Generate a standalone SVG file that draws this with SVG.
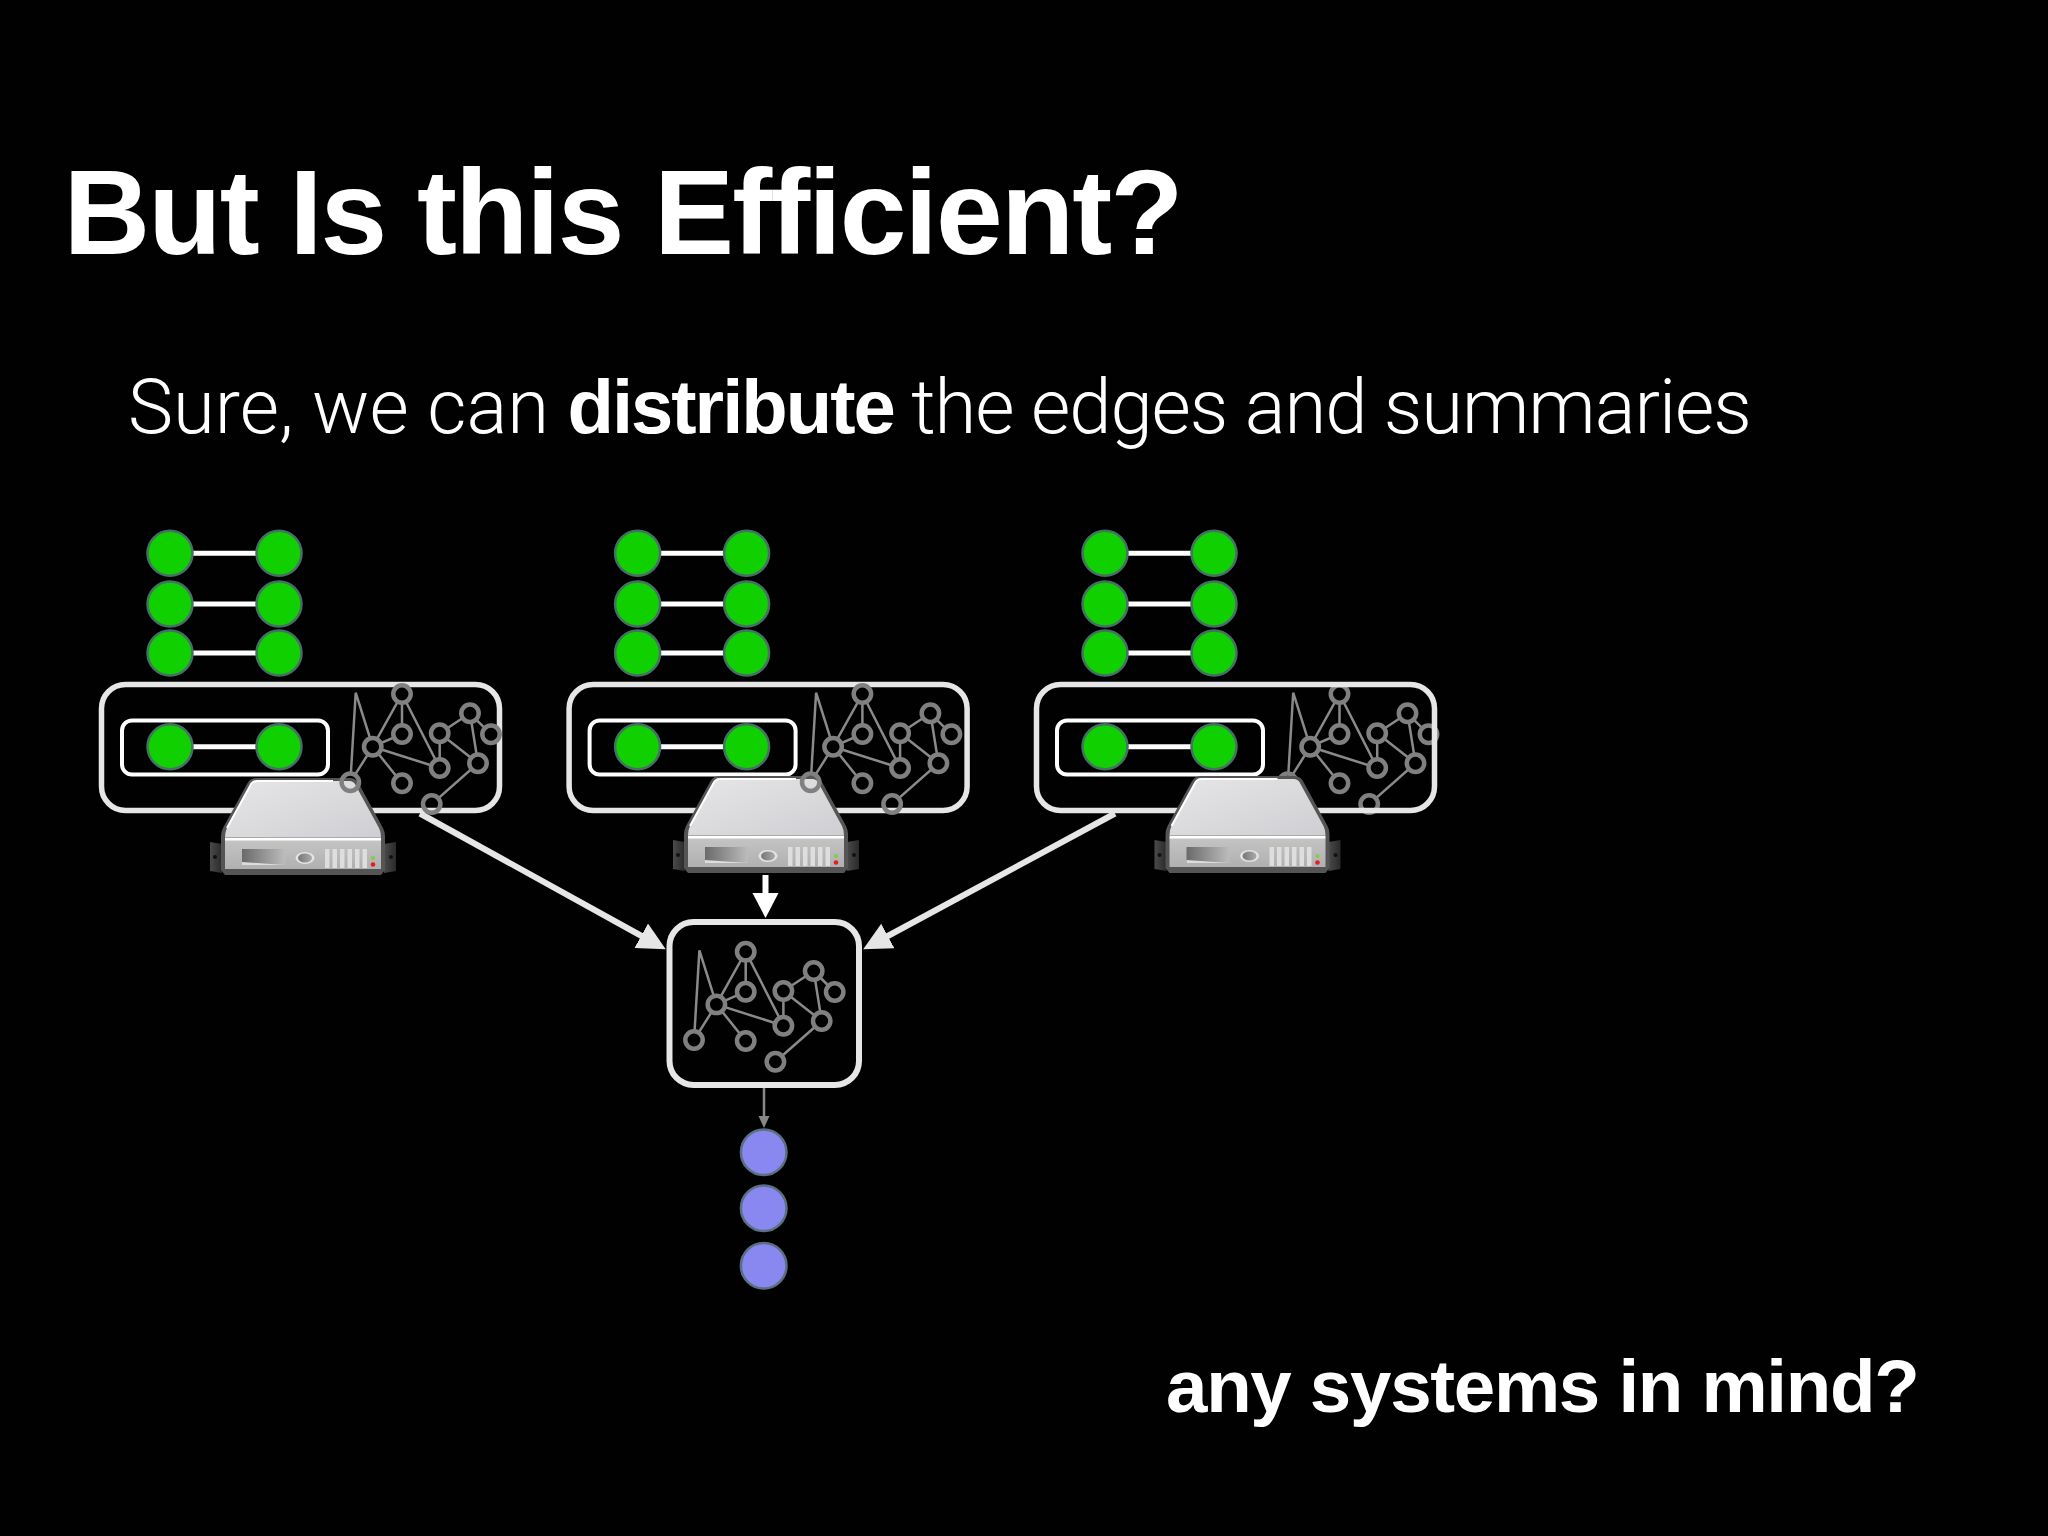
<svg xmlns="http://www.w3.org/2000/svg" width="2048" height="1536" viewBox="0 0 2048 1536">
<style>
text{fill:#fff;font-family:"Liberation Sans",Arial,sans-serif}
.title{font-size:120px;font-weight:700;letter-spacing:-1.9px}
.sub{font-size:76px;font-family:Roboto,"Liberation Sans",sans-serif;font-weight:300}
.sub .b{font-weight:700;font-family:"Liberation Sans",sans-serif;letter-spacing:-2px}
.sub .t{letter-spacing:-1.05px}
.foot{font-size:74.5px;font-weight:700;letter-spacing:-1.3px}
.g{fill:#11d000;stroke:#466f66;stroke-width:2.5}
.e{stroke:#fff;stroke-width:5;fill:none}
.ob{fill:none;stroke:#e6e6e6;stroke-width:5.5}
.ib{fill:none;stroke:#fff;stroke-width:4}
.gl{stroke:#8a8a8a;stroke-width:2.5;fill:none}
.gn{stroke:#808080;stroke-width:4.5;fill:#010102}
.gh{stroke:#808080;stroke-width:4.5;fill:none}
.p{fill:#8888f0;stroke:#5a7080;stroke-width:2.5}
.conn{stroke:#e6e6e6;stroke-width:6;fill:none}
</style>
<defs>
<linearGradient id="topf" x1="0" y1="0" x2="1" y2="1"><stop offset="0" stop-color="#e6e6e8"/><stop offset="1" stop-color="#cfcfd3"/></linearGradient>
<linearGradient id="frontf" x1="0" y1="0" x2="0" y2="1"><stop offset="0" stop-color="#c4c4c4"/><stop offset="1" stop-color="#b0b0b0"/></linearGradient>
<linearGradient id="panel" x1="0" y1="0" x2="1" y2="0"><stop offset="0" stop-color="#6a6a6a"/><stop offset="1" stop-color="#bcbcbc"/></linearGradient>
<linearGradient id="oval" x1="0" y1="0" x2="1" y2="0"><stop offset="0" stop-color="#777"/><stop offset="1" stop-color="#aaa"/></linearGradient>
<linearGradient id="ear" x1="0" y1="0" x2="1" y2="0"><stop offset="0" stop-color="#4a4a4a"/><stop offset="1" stop-color="#2a2a2a"/></linearGradient>
<marker id="h1" markerUnits="userSpaceOnUse" markerWidth="32" markerHeight="30" refX="18" refY="14" orient="auto"><path d="M0,0L28,14L0,28Z" fill="#e6e6e6"/></marker>
<marker id="h2" markerUnits="userSpaceOnUse" markerWidth="30" markerHeight="30" refX="15" refY="13" orient="auto"><path d="M0,0L25,13L0,26Z" fill="#fff"/></marker>
<marker id="h3" markerUnits="userSpaceOnUse" markerWidth="14" markerHeight="13" refX="6" refY="5.500" orient="auto"><path d="M0,0L12,5.500L0,11Z" fill="#888"/></marker>
<g id="graph">
<path class="gl" d="M350.9,773L355.7,692.7L372.7,746.7M372.7,746.7L402,694L402,734M372.7,746.7L402,734M402,694L439.7,768M355.1,774.7L372.7,746.7L402,783.3M372.7,746.7L439.7,768M439.7,733.3L439.7,768M439.7,733.3L470,713.3M439.7,733.3L478,763.3M470,713.3L491,734.3M470,713.3L478,763.3M478,763.3L438.5,798.1"/>
<circle class="gn" cx="402" cy="694" r="8.700"/><circle class="gn" cx="402" cy="734" r="8.700"/><circle class="gn" cx="372.7" cy="746.7" r="8.700"/><circle class="gh" cx="350.3" cy="782.3" r="8.700"/><circle class="gn" cx="402" cy="783.3" r="8.700"/><circle class="gn" cx="439.7" cy="733.3" r="8.700"/><circle class="gn" cx="470" cy="713.3" r="8.700"/><circle class="gn" cx="491" cy="734.3" r="8.700"/><circle class="gn" cx="439.7" cy="768" r="8.700"/><circle class="gn" cx="478" cy="763.3" r="8.700"/><circle class="gh" cx="431.7" cy="804" r="8.700"/>
</g>
<g id="pair"><line class="e" x1="170" y1="0" x2="279" y2="0"/><circle class="g" cx="170" cy="0" r="22.5"/><circle class="g" cx="279" cy="0" r="22.5"/></g>
<g id="srv">
<path d="M-81,66L-93,64L-93,93L-81,95Z" fill="url(#ear)"/><path d="M81,66L93,64L93,93L81,95Z" fill="url(#ear)"/>
<circle cx="-88" cy="79" r="2" fill="#111"/><circle cx="88" cy="79" r="2" fill="#111"/>
<path d="M-47,0L47,0Q53,0 56,6L80,50Q82,54 82,58L82,92L78,97L-78,97L-82,92L-82,58Q-82,54 -80,50L-56,6Q-53,0 -47,0Z" fill="#555"/>
<path d="M-46,3L46,3Q51,3 53,8L76,50Q78,54 78,59L-78,59Q-78,54 -76,50L-53,8Q-51,3 -46,3Z" fill="url(#topf)"/>
<path d="M-76,50L-53,8Q-51,3 -46,3L30,3" fill="none" stroke="#fff" stroke-width="2"/>
<path d="M-78,62L78,62L78,91L-78,91Z" fill="url(#frontf)"/>
<line x1="-78" y1="61" x2="78" y2="61" stroke="#fff" stroke-width="3"/>
<path d="M-61,71L-18,71L-18,87L-61,87Z" fill="url(#panel)"/>
<path d="M-61,84L-18,87L-61,87Z" fill="#dcdcdc"/>
<ellipse cx="2" cy="80" rx="9.500" ry="6" fill="#e4e4e4"/><ellipse cx="2" cy="80" rx="7" ry="4.500" fill="url(#oval)"/>
<path d="M22,71h4.500v19h-4.500zM29.500,71h4.500v19h-4.500zM37,71h4.500v19h-4.500zM44.500,71h4.500v19h-4.500zM52,71h4.500v19h-4.500zM59.500,71h4.500v19h-4.500z" fill="#dedede"/>
<circle cx="70" cy="80" r="2" fill="#7fd040"/><circle cx="70" cy="86.500" r="2.300" fill="#e02020"/>
</g>
</defs>
<rect id="bg" width="2048" height="1536" fill="#010102"/>
<text id="title" class="title" x="63.500" y="254">But Is this Efficient?</text>
<text id="subtitle" class="sub" x="128" y="433">Sure, we can <tspan class="b">distribute</tspan><tspan class="t"> the edges and summaries</tspan></text>
<text id="footer" class="foot" x="1166" y="1412">any systems in mind?</text>

<g id="connectors">
<line class="conn" x1="420" y1="813.500" x2="657" y2="944.500" marker-end="url(#h1)"/>
<line class="conn" x1="1115" y1="813.500" x2="872" y2="944.500" marker-end="url(#h1)"/>
<line x1="765.500" y1="875" x2="765.500" y2="908" stroke="#fff" stroke-width="6" marker-end="url(#h2)"/>
<line x1="764" y1="1088" x2="764" y2="1122" stroke="#888" stroke-width="2.500" marker-end="url(#h3)"/>
</g>

<g id="node1">
<use href="#pair" y="553.300"/><use href="#pair" y="604"/><use href="#pair" y="653"/>
<rect class="ob" x="101.500" y="684.500" width="398" height="126" rx="24"/>
<rect class="ib" x="122" y="720.500" width="206" height="54" rx="10"/>
<use href="#pair" y="746.700"/>
<use href="#srv" x="303" y="778"/>
<use href="#graph"/>
</g>
<g id="node2">
<g transform="translate(467.600 0)"><use href="#pair" y="553.300"/><use href="#pair" y="604"/><use href="#pair" y="653"/>
<rect class="ob" x="101.500" y="684.500" width="398" height="126" rx="24"/>
<rect class="ib" x="122" y="720.500" width="206" height="54" rx="10"/>
<use href="#pair" y="746.700"/></g>
<use href="#srv" x="766" y="776"/>
<use href="#graph" x="460.400"/>
</g>
<g id="node3">
<g transform="translate(935 0)"><use href="#pair" y="553.300"/><use href="#pair" y="604"/><use href="#pair" y="653"/></g>
<use href="#graph" x="937.500"/>
<g transform="translate(935 0)"><rect class="ob" x="101.500" y="684.500" width="398" height="126" rx="24"/>
<rect class="ib" x="122" y="720.500" width="206" height="54" rx="10"/>
<use href="#pair" y="746.700"/></g>
<use href="#srv" x="1247.500" y="776"/>
</g>
<g id="center">
<rect class="ob" x="669.500" y="922" width="189.500" height="163" rx="24" style="stroke-width:6"/>
<use href="#graph" x="343.700" y="257.700"/>
</g>
<g id="out1"><circle class="p" cx="763.700" cy="1152.300" r="22.800"/></g>
<g id="out2"><circle class="p" cx="763.700" cy="1208.300" r="22.800"/></g>
<g id="out3"><circle class="p" cx="763.700" cy="1265.700" r="22.800"/></g>
</svg>
